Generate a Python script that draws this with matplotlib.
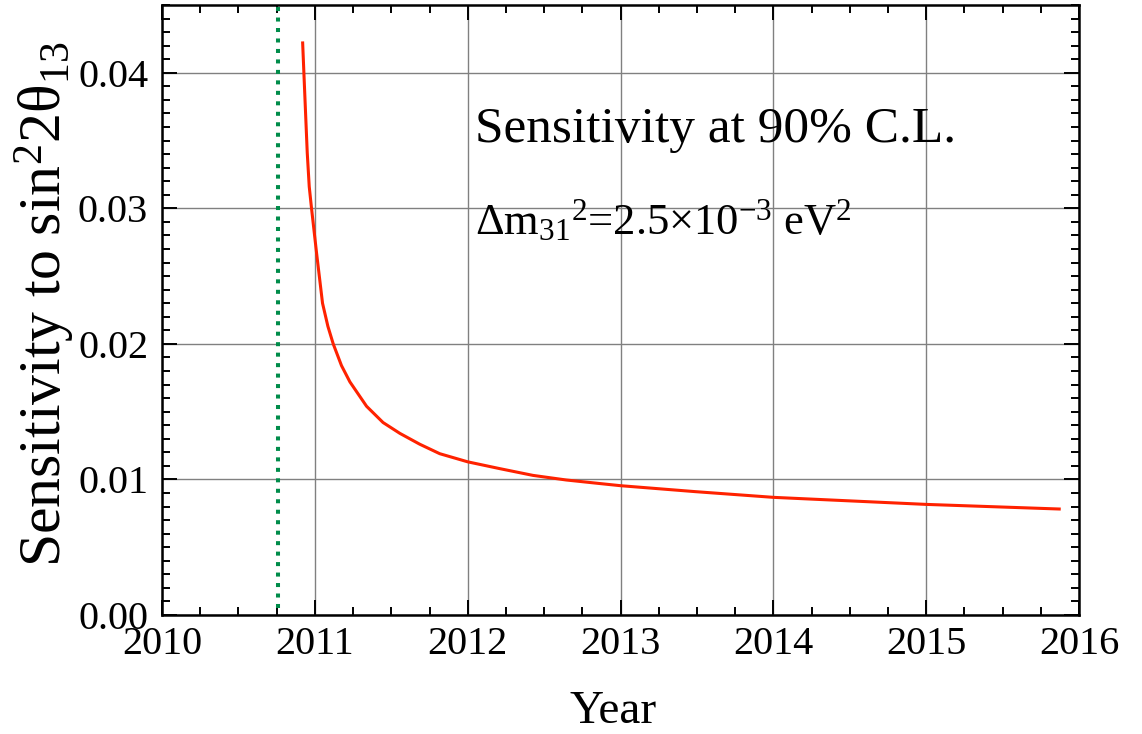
import matplotlib
matplotlib.use("Agg")
import matplotlib.pyplot as plt
from matplotlib.ticker import MultipleLocator, FormatStrFormatter

plt.rcParams['font.family'] = ['Liberation Serif', 'DejaVu Serif']
plt.rcParams['mathtext.fontset'] = 'custom'
plt.rcParams['mathtext.rm'] = 'Liberation Serif'
plt.rcParams['mathtext.it'] = 'Liberation Serif:italic'

years = [2010.92, 2010.928, 2010.941, 2010.950, 2010.963, 2010.978, 2011.011,
         2011.050, 2011.085, 2011.120, 2011.174, 2011.229, 2011.338, 2011.446,
         2011.556, 2011.686, 2011.817, 2012.0, 2012.209, 2012.427, 2012.645,
         2012.863, 2013.0, 2013.49, 2014.0, 2015.0, 2015.87]
sensitivity = [0.0422, 0.0400, 0.0365, 0.0341, 0.0316, 0.0300, 0.0267,
               0.0230, 0.0213, 0.0200, 0.0184, 0.0172, 0.0154, 0.0142,
               0.0134, 0.0126, 0.0119, 0.0113, 0.0108, 0.0103, 0.00996,
               0.0097, 0.00954, 0.00910, 0.00868, 0.00816, 0.00782]
start_year = 2010.76
xticks = [2010, 2011, 2012, 2013, 2014, 2015, 2016]
yticks = [0.00, 0.01, 0.02, 0.03, 0.04]

fig = plt.figure(figsize=(11.42, 7.34), dpi=100)
ax = fig.add_axes([0.1419, 0.1621, 0.8030, 0.8311])

ax.grid(True, which='major', color='#808080', lw=1.0, zorder=0)
ax.axvline(start_year, ymin=0.012, ymax=1, color='#008c4a', lw=2.9,
           linestyle=(0, (1, 1.6)), dash_capstyle='butt', zorder=2)
ax.plot(years, sensitivity, color='#ff2200', lw=2.2, zorder=3,
        solid_joinstyle='round')

ax.set_xlim(2010, 2016)
ax.set_ylim(0, 0.045)
ax.set_xticks(xticks)
ax.set_yticks(yticks)
ax.xaxis.set_minor_locator(MultipleLocator(0.25))
ax.yaxis.set_minor_locator(MultipleLocator(0.001))
ax.yaxis.set_major_formatter(FormatStrFormatter('%.2f'))

ax.tick_params(which='both', direction='in', top=True, right=True,
               width=1.4, labelsize=29, color='black')
ax.tick_params(which='major', length=11)
ax.tick_params(which='minor', length=6)
ax.tick_params(axis='x', pad=8)
ax.tick_params(axis='y', pad=10)
for s in ax.spines.values():
    s.set_linewidth(1.8)

ax.set_xlabel('Year', fontsize=34, va='top')
ax.xaxis.set_label_coords(0.492, -0.124)
ax.set_ylabel(r'Sensitivity to sin$^2$2θ$_{13}$', fontsize=43, va='center')
ax.yaxis.set_label_coords(-0.128, 0.51)

ax.text(2012.05, 0.0349, 'Sensitivity at 90% C.L.', fontsize=37)
ax.text(2012.05, 0.0281, r'Δm$_{31}$$^2$=2.5×10$^{-3}$ eV$^2$', fontsize=32)

fig.savefig('out.png', dpi=100)
